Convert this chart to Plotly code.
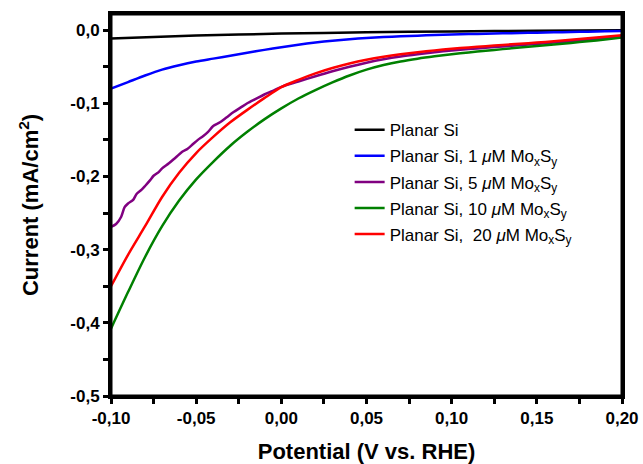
import plotly.graph_objects as go

# ---- data ----
potential = [-0.10, -0.09, -0.08, -0.07, -0.06, -0.05, -0.04, -0.03, -0.02, -0.01,
             0.00, 0.01, 0.02, 0.03, 0.04, 0.05, 0.06, 0.07, 0.08, 0.09, 0.10,
             0.11, 0.12, 0.13, 0.14, 0.15, 0.16, 0.17, 0.18, 0.19, 0.20]

black_x = [-0.10, -0.05, 0.00, 0.05, 0.10, 0.15, 0.20]
black_y = [-0.0115, -0.0075, -0.0048, -0.0030, -0.0018, -0.0008, -0.0002]

blue_y = [-0.080, -0.071, -0.062, -0.054, -0.048, -0.043, -0.039, -0.035, -0.031, -0.027,
          -0.0235, -0.020, -0.017, -0.0145, -0.0125, -0.0108, -0.0095, -0.0085, -0.0076, -0.0068, -0.0061,
          -0.0055, -0.0049, -0.0044, -0.0040, -0.0035, -0.0031, -0.0026, -0.0022, -0.0017, -0.0012]

purple_x = [-0.100, -0.097, -0.094, -0.092, -0.090, -0.087, -0.085, -0.082, -0.080, -0.077,
            -0.075, -0.072, -0.070, -0.066, -0.062, -0.058, -0.055, -0.052, -0.049, -0.046,
            -0.043, -0.040, -0.036, -0.032, -0.028, -0.024, -0.020, -0.015, -0.010, -0.005,
            0.00, 0.01, 0.02, 0.03, 0.04, 0.05, 0.06, 0.07, 0.08, 0.09, 0.10,
            0.11, 0.12, 0.13, 0.14, 0.15, 0.16, 0.17, 0.18, 0.19, 0.20]
purple_y = [-0.269, -0.265, -0.255, -0.242, -0.237, -0.232, -0.224, -0.218, -0.213, -0.205,
            -0.199, -0.194, -0.189, -0.182, -0.174, -0.166, -0.162, -0.156, -0.150, -0.145,
            -0.139, -0.131, -0.126, -0.119, -0.112, -0.106, -0.100, -0.094, -0.088, -0.083,
            -0.0775, -0.0702, -0.0630, -0.0562, -0.0500, -0.0445, -0.0398, -0.0360, -0.0329, -0.0302, -0.0279,
            -0.0259, -0.0241, -0.0223, -0.0206, -0.0189, -0.0171, -0.0152, -0.0132, -0.0111, -0.0090]

green_y = [-0.408, -0.358, -0.310, -0.268, -0.233, -0.204, -0.180, -0.158, -0.139, -0.122,
           -0.107, -0.0935, -0.0820, -0.0715, -0.0620, -0.0540, -0.0477, -0.0428, -0.0390, -0.0358, -0.0330,
           -0.0305, -0.0282, -0.0260, -0.0239, -0.0218, -0.0197, -0.0175, -0.0153, -0.0128, -0.0100]

red_y = [-0.350, -0.307, -0.268, -0.228, -0.195, -0.168, -0.146, -0.126, -0.109, -0.093,
         -0.078, -0.0680, -0.0592, -0.0518, -0.0456, -0.0405, -0.0364, -0.0330, -0.0302, -0.0277, -0.0256,
         -0.0237, -0.0220, -0.0203, -0.0187, -0.0170, -0.0152, -0.0133, -0.0113, -0.0092, -0.0070]

names = ["Planar Si",
         "Planar Si, 1 <i>\u03bc</i>M Mo<sub>x</sub>S<sub>y</sub>",
         "Planar Si, 5 <i>\u03bc</i>M Mo<sub>x</sub>S<sub>y</sub>",
         "Planar Si, 10 <i>\u03bc</i>M Mo<sub>x</sub>S<sub>y</sub>",
         "Planar Si,  20 <i>\u03bc</i>M Mo<sub>x</sub>S<sub>y</sub>"]

# axis ranges
x_range = [-0.1, 0.2]
y_range = [-0.5, 0.022]

# major ticks with labels, intermediate ticks unlabelled
x_tickvals = [-0.10, -0.075, -0.05, -0.025, 0.00, 0.025, 0.05, 0.075, 0.10, 0.125, 0.15, 0.175, 0.20]
x_ticktext = ["-0,10", "", "-0,05", "", "0,00", "", "0,05", "", "0,10", "", "0,15", "", "0,20"]
y_tickvals = [0.0, -0.05, -0.1, -0.15, -0.2, -0.25, -0.3, -0.35, -0.4, -0.45, -0.5]
y_ticktext = ["0,0", "", "-0,1", "", "-0,2", "", "-0,3", "", "-0,4", "", "-0,5"]

series = [
    (black_x, black_y, "#000000"),
    (potential, blue_y, "#0000ff"),
    (purple_x, purple_y, "#800080"),
    (potential, green_y, "#008000"),
    (potential, red_y, "#ff0000"),
]

fig = go.Figure()
for i, ((xs, ys, col), nm) in enumerate(zip(series, names)):
    fig.add_trace(go.Scatter(x=xs, y=ys, mode="lines", name=nm,
                             line=dict(color=col, width=2.5, shape="spline", smoothing=0.8),
                             legendgroup=str(i)))

# plot frame following the axis ranges
x0, x1 = x_range
y0, y1 = y_range
fig.add_trace(go.Scatter(x=[x0, x1, x1, x0, x0], y=[y0, y0, y1, y1, y0], mode="lines",
                         line=dict(color="black", width=3), showlegend=False,
                         hoverinfo="skip", cliponaxis=False))

FONT = "Liberation Sans, Arial"
tickfont = dict(family=FONT, size=17, color="black")
titlefont = dict(family=FONT, size=22, color="black")


def bold(labels):
    return ["<b>%s</b>" % t if t else "" for t in labels]


fig.update_layout(
    width=643, height=464,
    margin=dict(l=111, r=21, t=14, b=68),
    paper_bgcolor="white", plot_bgcolor="white",
    showlegend=True,
    legend=dict(x=0.467, y=0.743, xanchor="left", yanchor="top",
                font=dict(family=FONT, size=17, color="black"),
                bgcolor="rgba(0,0,0,0)", borderwidth=0,
                traceorder="grouped", tracegroupgap=1),
    xaxis=dict(range=x_range, tickmode="array", tickvals=x_tickvals,
               ticktext=bold(x_ticktext), tickfont=tickfont, automargin=False,
               title=dict(text="<b>Potential (V vs. RHE)</b>", font=titlefont, standoff=18),
               showline=True, mirror=True, linecolor="black", linewidth=3,
               ticks="outside", ticklen=5, tickwidth=2.5, tickcolor="black",
               showgrid=False, zeroline=False),
    yaxis=dict(range=y_range, tickmode="array", tickvals=y_tickvals,
               ticktext=bold(y_ticktext), tickfont=tickfont, automargin=False,
               title=dict(text="<b>Current (mA/cm<sup>2</sup>)</b>", font=titlefont, standoff=26),
               showline=True, mirror=True, linecolor="black", linewidth=3,
               ticks="outside", ticklen=5, tickwidth=2.5, tickcolor="black",
               showgrid=False, zeroline=False),
)

fig.write_html("out.html")
